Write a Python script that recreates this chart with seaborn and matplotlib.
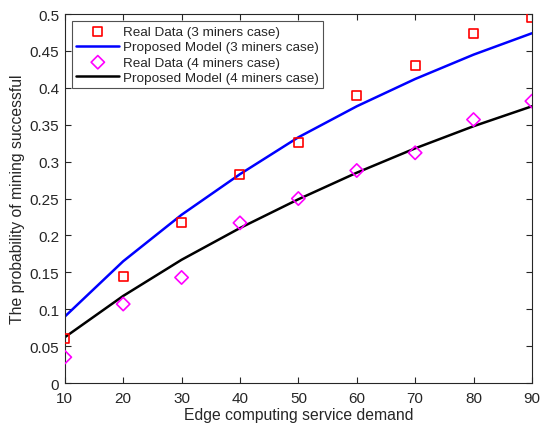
import numpy as np
import matplotlib
matplotlib.use('Agg')
import matplotlib.pyplot as plt
import seaborn as sns

# Data
demand = [10, 20, 30, 40, 50, 60, 70, 80, 90]
real_3 = [0.060, 0.145, 0.217, 0.282, 0.326, 0.390, 0.430, 0.473, 0.496]
model_3 = [0.090, 0.165, 0.228, 0.283, 0.333, 0.375, 0.412, 0.445, 0.474]
real_4 = [0.035, 0.107, 0.143, 0.217, 0.250, 0.288, 0.312, 0.357, 0.382]
model_4 = [0.062, 0.118, 0.167, 0.210, 0.249, 0.285, 0.318, 0.348, 0.375]

sns.set_style('white')
plt.rcParams['font.family'] = ['Liberation Sans', 'DejaVu Sans']

fig = plt.figure(figsize=(5.4, 4.27), dpi=100)
ax = fig.add_axes([0.12, 0.1007, 0.865, 0.864])

axis_col = '#262626'

sns.scatterplot(x=demand, y=real_3, ax=ax, marker='s', s=42, facecolor='none',
                edgecolor='red', linewidth=1.2, label='Real Data (3 miners case)', zorder=3)
sns.lineplot(x=demand, y=model_3, ax=ax, color='blue', linewidth=1.8,
             label='Proposed Model (3 miners case)')
sns.scatterplot(x=demand, y=real_4, ax=ax, marker='D', s=46, facecolor='none',
                edgecolor='magenta', linewidth=1.2, label='Real Data (4 miners case)', zorder=3)
sns.lineplot(x=demand, y=model_4, ax=ax, color='black', linewidth=1.8,
             label='Proposed Model (4 miners case)')

ax.set_xlim(10, 90)
ax.set_ylim(0, 0.5)
ax.set_xticks(np.arange(10, 91, 10))
ax.set_yticks(np.arange(0, 0.51, 0.05))
ax.set_yticklabels(['0', '0.05', '0.1', '0.15', '0.2', '0.25', '0.3', '0.35', '0.4', '0.45', '0.5'])
ax.tick_params(direction='in', length=4, width=0.8, colors=axis_col, labelsize=11,
               top=True, right=True, bottom=True, left=True, labelcolor=axis_col)
ax.tick_params(axis='x', pad=6)
ax.tick_params(axis='y', pad=4)
for sp in ax.spines.values():
    sp.set_color(axis_col)
    sp.set_linewidth(0.8)

ax.set_xlabel('Edge computing service demand', fontsize=11.3, color=axis_col, labelpad=1)
ax.set_ylabel('The probability of mining successful', fontsize=11.3, color=axis_col, labelpad=3)

leg = ax.legend(loc='upper left', fontsize=9.7, frameon=True, fancybox=False,
                edgecolor=axis_col, borderaxespad=0.55, handlelength=3.2,
                labelspacing=0.22, borderpad=0.3, handletextpad=0.3)
leg.get_frame().set_linewidth(0.8)

fig.savefig('out.png', dpi=100)
